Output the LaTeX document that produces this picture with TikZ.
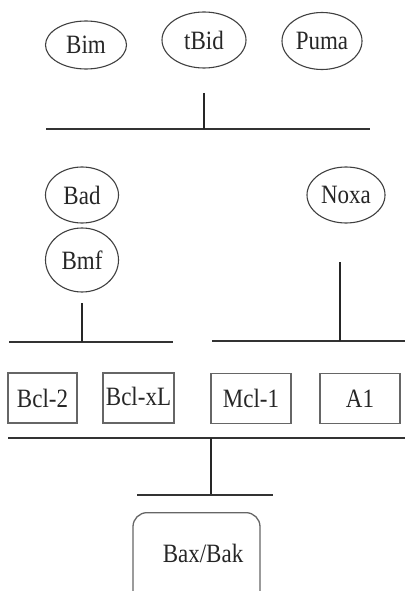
\documentclass[tikz,border=0pt]{standalone}
\usepackage{fontspec}
\usepackage{graphicx}
\setmainfont{Liberation Serif}
\usetikzlibrary{shapes.geometric}
\newcommand{\tallt}[1]{\scalebox{1}[1.15]{#1}}
\begin{document}
\begin{tikzpicture}[x=1pt,y=-1pt,
  lbl/.style={font=\fontsize{23}{25}\selectfont, text=black!85},
  oval/.style={ellipse, draw=black!75, line width=1.1pt, inner sep=0pt, lbl},
  sqbox/.style={rectangle, draw=black!60, line width=1.3pt, inner sep=0pt, minimum height=50pt, lbl},
  bar/.style={draw=black!80, line width=2pt},
  stem/.style={draw=black!85, line width=1.8pt}]
\useasboundingbox (0,0) rectangle (404,591);
% top ellipses
\node[oval, minimum width=81pt, minimum height=48pt] (bim) at (86,45) {\tallt{Bim}};
\node[oval, minimum width=84pt, minimum height=56pt] (tbid) at (204,40) {\tallt{tBid}};
\node[oval, minimum width=80pt, minimum height=57pt] (puma) at (322,41) {\tallt{Puma}};
% bar 1
\coordinate (b1l) at (46,129); \coordinate (b1r) at (370,129);
\coordinate (s1t) at (204,93); \coordinate (s1b) at (204,129);
\draw[bar] (b1l) -- (b1r);
\draw[stem] (s1t) -- (s1b);
% middle ellipses
\node[oval, minimum width=73pt, minimum height=56pt] (bad) at (82,195) {\tallt{Bad}};
\node[oval, minimum width=73pt, minimum height=64pt] (bmf) at (82,260) {\tallt{Bmf}};
\node[oval, minimum width=78pt, minimum height=56pt] (noxa) at (346,195) {\tallt{Noxa}};
% left bar
\coordinate (b2l) at (9,342); \coordinate (b2r) at (173,342);
\coordinate (s2t) at (82,303); \coordinate (s2b) at (82,342);
\draw[bar] (b2l) -- (b2r);
\draw[stem] (s2t) -- (s2b);
% right bar
\coordinate (b3l) at (212,341); \coordinate (b3r) at (405,341);
\coordinate (s3t) at (340,262); \coordinate (s3b) at (340,341);
\draw[bar] (b3l) -- (b3r);
\draw[stem] (s3t) -- (s3b);
% boxes
\node[sqbox, minimum width=69pt] (bcl2) at (42.5,398) {\tallt{Bcl-2}};
\node[sqbox, minimum width=71pt] (bclxl) at (138.5,398) {\raisebox{4pt}{\tallt{Bcl-xL}}};
\node[sqbox, minimum width=80pt] (mcl1) at (251,398.5) {\tallt{Mcl-1}};
\node[sqbox, minimum width=80pt] (a1) at (360,398.5) {\tallt{A1}};
% bar 3
\coordinate (b4l) at (8,438); \coordinate (b4r) at (405,438);
\coordinate (s4t) at (211,438); \coordinate (s4b) at (211,495);
\draw[bar] (b4l) -- (b4r);
\draw[stem] (s4t) -- (s4b);
% bar 4
\coordinate (b5l) at (137,495); \coordinate (b5r) at (273,495);
\draw[bar] (b5l) -- (b5r);
% Bax/Bak
\node[rectangle, rounded corners=14pt, draw=black!60, line width=1.3pt, minimum width=127pt, minimum height=100pt, inner sep=0pt, anchor=north] (baxbak) at (196.5,512) {};
\node[lbl] (baxtxt) at (203,553) {\tallt{Bax/Bak}};
\end{tikzpicture}
\end{document}
